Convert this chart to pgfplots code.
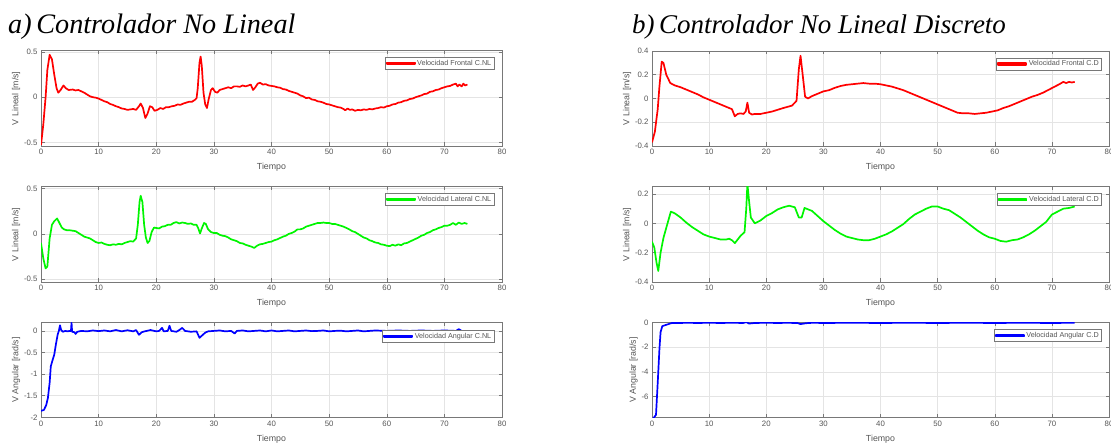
\documentclass[border=0pt]{standalone}
\usepackage{pgfplots}
\pgfplotsset{compat=1.18}
\usepackage{fontspec}
\setmainfont{Liberation Sans}
\newfontfamily\titlefont{Liberation Serif}
\definecolor{txt}{RGB}{85,85,85}
\definecolor{axc}{RGB}{120,120,120}
\definecolor{grd}{RGB}{228,228,228}
\definecolor{mred}{RGB}{255,0,0}
\definecolor{mgreen}{RGB}{0,245,0}
\definecolor{mblue}{RGB}{0,0,255}
\pgfplotsset{
  mstyle/.style={
    scale only axis,
    axis line style={axc, line width=0.6pt},
    tick style={axc, line width=0.5pt},
    tick align=inside,
    major tick length=3.5pt,
    xmajorgrids, ymajorgrids,
    grid style={grd, line width=0.5pt},
    xmin=0, xmax=80,
    xtick={0,10,...,80},
    ticklabel style={font=\fontsize{7.8}{8}\selectfont, text=txt},
    /pgf/number format/assume math mode=true,
    label style={font=\fontsize{8.8}{9}\selectfont, text=txt},
    xlabel={Tiempo},
    xlabel style={yshift=-1.5pt},
    ylabel style={yshift=-3pt},
    legend style={at={(0.983,0.932)}, anchor=north east, draw=axc, fill=white,
      font=\fontsize{7.2}{8}\selectfont, text=txt, inner sep=1pt,
      nodes={inner sep=1.7pt}},
    legend image code/.code={\fill[#1] (0pt,-0.9pt) rectangle (28pt,0.9pt);},
    every axis plot/.append style={line width=1.7pt, line join=round},
  }
}
\begin{document}
\begin{tikzpicture}
\useasboundingbox (0pt,0pt) rectangle (1111pt,444pt);
\node[anchor=base west, inner sep=0pt, text=black] at (8pt,410pt) {\titlefont\fontsize{28.2}{30}\selectfont\itshape a)\,Controlador No Lineal};
\node[anchor=base west, inner sep=0pt, text=black] at (632pt,410pt) {\titlefont\fontsize{27}{30}\selectfont\itshape b)\,Controlador No Lineal Discreto};

% ---------- Left top
\begin{axis}[mstyle, at={(41pt,298pt)}, anchor=south west, width=461pt, height=95.3pt,
  ymin=-0.54, ymax=0.515, ytick={-0.5,0,0.5}, ylabel={V Lineal [m/s]}]
\addplot[mred] coordinates {
(0,-0.53) (0.4,-0.3) (0.8,0.0) (1.1,0.3) (1.5,0.47) (1.9,0.42) (2.3,0.25) (2.7,0.1) (3.0,0.05) (3.4,0.08) (3.9,0.13) (4.3,0.1) (4.8,0.08) (5.5,0.085) (6.0,0.075) (6.5,0.08) (7.0,0.065) (7.5,0.05) (8.0,0.03) (8.5,0.01) (9.0,0.0) (9.5,-0.005) (10,-0.015) (10.5,-0.03) (11,-0.045) (11.5,-0.055) (12,-0.075) (12.5,-0.085) (13,-0.1) (13.5,-0.11) (14,-0.125) (14.5,-0.13) (15,-0.14) (15.5,-0.135) (16,-0.13) (16.5,-0.14) (17.0,-0.1) (17.3,-0.07) (17.7,-0.12) (18.1,-0.23) (18.5,-0.18) (18.9,-0.1) (19.3,-0.11) (19.7,-0.15) (20.2,-0.14) (20.7,-0.12) (21.2,-0.13) (21.7,-0.11) (22.2,-0.11) (22.7,-0.1) (23.2,-0.095) (23.7,-0.08) (24.2,-0.085) (24.7,-0.07) (25.2,-0.06) (25.7,-0.05) (26.2,-0.05) (26.7,-0.03) (27.0,-0.01) (27.2,0.1) (27.5,0.38) (27.7,0.45) (27.9,0.35) (28.2,0.05) (28.5,-0.08) (28.8,-0.12) (29.1,-0.02) (29.5,0.08) (29.8,0.1) (30.2,0.06) (30.6,0.05) (31,0.08) (31.5,0.09) (32,0.1) (32.5,0.11) (33,0.1) (33.5,0.12) (34,0.12) (34.5,0.115) (35,0.13) (35.5,0.12) (36,0.13) (36.4,0.14) (36.8,0.08) (37.2,0.11) (37.6,0.15) (38,0.16) (38.5,0.14) (39,0.145) (39.5,0.13) (40,0.125) (40.5,0.12) (41,0.11) (41.5,0.105) (42,0.09) (42.5,0.085) (43,0.07) (43.5,0.06) (44,0.05) (44.5,0.04) (45,0.02) (45.5,0.01) (46,-0.01) (46.5,-0.005) (47,-0.025) (47.5,-0.03) (48,-0.045) (48.5,-0.05) (49,-0.06) (49.5,-0.075) (50,-0.08) (50.5,-0.09) (51,-0.1) (51.5,-0.11) (52,-0.115) (52.5,-0.13) (52.8,-0.145) (53.2,-0.125) (53.6,-0.14) (54,-0.135) (54.5,-0.15) (55,-0.14) (55.5,-0.145) (56,-0.135) (56.5,-0.14) (57,-0.13) (57.5,-0.135) (58,-0.125) (58.5,-0.12) (59,-0.11) (59.5,-0.115) (60,-0.1) (60.5,-0.095) (61,-0.08) (61.5,-0.075) (62,-0.06) (62.5,-0.055) (63,-0.04) (63.5,-0.035) (64,-0.02) (64.5,-0.015) (65,0.0) (65.5,0.01) (66,0.02) (66.5,0.035) (67,0.04) (67.5,0.06) (68,0.065) (68.5,0.08) (69,0.085) (69.5,0.1) (70,0.11) (70.5,0.12) (71,0.125) (71.5,0.14) (72,0.15) (72.3,0.12) (72.6,0.14) (73,0.12) (73.3,0.15) (73.6,0.13) (74,0.14)
};
\addlegendentry{Velocidad Frontal C.NL}
\end{axis}

% ---------- Left middle
\begin{axis}[mstyle, at={(41pt,162pt)}, anchor=south west, width=461pt, height=95.3pt,
  ymin=-0.53, ymax=0.52, ytick={-0.5,0,0.5}, ylabel={V Lineal [m/s]}]
\addplot[mgreen] coordinates {
(0,-0.1) (0.4,-0.27) (0.8,-0.38) (1.1,-0.36) (1.5,-0.05) (1.9,0.1) (2.3,0.14) (2.8,0.17) (3.2,0.12) (3.6,0.07) (4.0,0.05) (4.5,0.04) (5,0.04) (5.5,0.035) (6,0.03) (6.5,0.01) (7,-0.01) (7.5,-0.03) (8,-0.04) (8.5,-0.05) (9,-0.07) (9.5,-0.09) (10,-0.1) (10.5,-0.095) (11,-0.11) (11.5,-0.12) (12,-0.125) (12.5,-0.115) (13,-0.12) (13.5,-0.11) (14,-0.115) (14.5,-0.1) (15,-0.09) (15.5,-0.08) (16,-0.085) (16.5,-0.05) (16.8,0.1) (17.1,0.35) (17.3,0.42) (17.6,0.35) (17.9,0.1) (18.2,-0.04) (18.5,-0.1) (18.8,-0.08) (19.2,0.02) (19.6,0.07) (20,0.065) (20.5,0.06) (21,0.08) (21.5,0.085) (22,0.1) (22.5,0.1) (23,0.12) (23.5,0.13) (24,0.115) (24.5,0.125) (25,0.12) (25.5,0.11) (26,0.115) (26.5,0.1) (27,0.1) (27.3,0.06) (27.6,0.005) (27.9,0.06) (28.3,0.12) (28.6,0.11) (29,0.05) (29.5,0.02) (30,0.01) (30.5,0.01) (31,-0.01) (31.5,-0.02) (32,-0.025) (32.5,-0.04) (33,-0.06) (33.5,-0.07) (34,-0.08) (34.5,-0.1) (35,-0.105) (35.5,-0.12) (36,-0.13) (36.5,-0.14) (37,-0.155) (37.5,-0.13) (38,-0.115) (38.5,-0.11) (39,-0.1) (39.5,-0.09) (40,-0.085) (40.5,-0.07) (41,-0.06) (41.5,-0.045) (42,-0.03) (42.5,-0.02) (43,0.0) (43.5,0.01) (44,0.025) (44.5,0.05) (45,0.05) (45.5,0.06) (46,0.08) (46.5,0.09) (47,0.1) (47.5,0.11) (48,0.12) (48.5,0.12) (49,0.125) (49.5,0.12) (50,0.12) (50.5,0.11) (51,0.11) (51.5,0.1) (52,0.09) (52.5,0.08) (53,0.065) (53.5,0.05) (54,0.03) (54.5,0.02) (55,0.0) (55.5,-0.02) (56,-0.04) (56.5,-0.05) (57,-0.07) (57.5,-0.08) (58,-0.095) (58.5,-0.1) (59,-0.115) (59.5,-0.12) (60,-0.13) (60.5,-0.135) (61,-0.12) (61.5,-0.13) (62,-0.115) (62.5,-0.125) (63,-0.105) (63.5,-0.1) (64,-0.085) (64.5,-0.07) (65,-0.055) (65.5,-0.04) (66,-0.02) (66.5,-0.01) (67,0.01) (67.5,0.02) (68,0.04) (68.5,0.05) (69,0.065) (69.5,0.075) (70,0.09) (70.5,0.09) (71,0.1) (71.5,0.12) (72,0.1) (72.5,0.125) (73,0.11) (73.5,0.12) (74,0.11)
};
\addlegendentry{Velocidad Lateral C.NL}
\end{axis}

% ---------- Left bottom
\begin{axis}[mstyle, at={(41pt,26.7pt)}, anchor=south west, width=461pt, height=94.6pt,
  ymin=-2, ymax=0.19, ytick={-2,-1.5,-1,-0.5,0}, ylabel={V Angular [rad/s]},
  legend style={at={(0.983,0.922)}}]
\addplot[mblue] coordinates {
(0,-1.85) (0.5,-1.83) (0.9,-1.72) (1.2,-1.55) (1.5,-1.2) (1.7,-0.82) (2.0,-0.68) (2.3,-0.55) (2.6,-0.3) (2.9,-0.08) (3.1,0.0) (3.3,0.13) (3.5,0.02) (3.8,-0.02) (4.2,0.0) (4.6,-0.01) (5.0,0.0) (5.2,0.0) (5.3,0.19) (5.4,-0.02) (5.8,-0.03) (6.0,-0.07) (6.3,-0.02) (7,0.0) (8,-0.01) (9,0.01) (10,-0.005) (11,0.01) (12,-0.01) (13,0.02) (14,-0.01) (15,0.015) (16,-0.01) (16.5,0.02) (17,-0.09) (17.5,-0.03) (18,-0.01) (19,0.02) (20,-0.01) (20.5,0.0) (21,0.07) (21.3,-0.01) (22,0.0) (22.3,0.12) (22.6,0.0) (23.5,-0.02) (24,0.02) (24.5,0.07) (25,0.0) (26,-0.02) (27,-0.01) (27.5,-0.16) (28,-0.1) (28.5,-0.04) (29,-0.01) (30,0.0) (31,0.01) (32,-0.01) (33,0.0) (33.6,-0.06) (34,0.0) (35,0.01) (36,-0.01) (37,0.0) (38,0.01) (39,-0.01) (40,0.01) (41,-0.01) (42,0.0) (43,0.01) (44,-0.01) (45,0.0) (46,0.01) (47,-0.005) (48,0.0) (49,0.01) (50,-0.01) (51,0.0) (52,0.005) (53,-0.01) (54,0.0) (55,0.01) (56,-0.01) (57,0.0) (58,0.01) (60,0.0) (62,0.01) (64,0.0) (66,0.01) (68,0.0) (70,0.01) (72,0.0) (72.5,0.04) (73,0.0) (73.5,0.0)
};
\addlegendentry{Velocidad Angular C.NL}
\end{axis}

% ---------- Right top
\begin{axis}[mstyle, at={(652pt,298pt)}, anchor=south west, width=457pt, height=95pt,
  ymin=-0.4, ymax=0.4, ytick={-0.4,-0.2,0,0.2,0.4}, ylabel={V Lineal [m/s]},
  yticklabel style={/pgf/number format/fixed}, legend style={at={(0.984,0.93)}}]
\addplot[mred] coordinates {
(0,-0.37) (0.5,-0.28) (1,-0.09) (1.3,0.1) (1.7,0.31) (2,0.3) (2.5,0.2) (3.2,0.13) (4,0.11) (5,0.095) (6,0.075) (7,0.055) (8,0.035) (9,0.01) (10,-0.01) (11,-0.03) (12,-0.05) (13,-0.07) (14,-0.09) (14.5,-0.15) (15,-0.13) (15.5,-0.125) (16,-0.13) (16.4,-0.11) (16.7,-0.035) (17,-0.12) (17.5,-0.135) (18,-0.13) (19,-0.13) (20,-0.12) (21,-0.11) (22,-0.095) (23,-0.08) (24.5,-0.06) (25.3,-0.02) (25.7,0.245) (26,0.36) (26.4,0.19) (26.8,0.015) (27.3,0.0) (28,0.02) (29,0.04) (30,0.06) (31,0.07) (32,0.09) (33,0.105) (34,0.115) (35,0.12) (36,0.125) (37,0.13) (38,0.125) (39,0.125) (40,0.12) (41,0.11) (42,0.1) (43,0.085) (44,0.07) (45,0.05) (46,0.03) (47,0.01) (48,-0.01) (49,-0.03) (50,-0.05) (51,-0.07) (52,-0.09) (53,-0.11) (53.5,-0.12) (54.5,-0.125) (55.5,-0.125) (56.5,-0.13) (57.5,-0.125) (58.5,-0.12) (59.5,-0.11) (60.5,-0.1) (61.5,-0.08) (62.5,-0.065) (63.5,-0.045) (64.5,-0.025) (65.5,-0.005) (66.5,0.015) (67.5,0.03) (68.5,0.05) (69.5,0.075) (70.5,0.1) (71.3,0.12) (72,0.14) (72.5,0.13) (73,0.14) (73.5,0.135) (74,0.14)
};
\addlegendentry{Velocidad Frontal C.D}
\end{axis}

% ---------- Right middle
\begin{axis}[mstyle, at={(652pt,162pt)}, anchor=south west, width=457pt, height=95.3pt,
  ymin=-0.4, ymax=0.25, ytick={-0.4,-0.2,0,0.2}, ylabel={V Lineal [m/s]},
  yticklabel style={/pgf/number format/fixed}, legend style={at={(0.984,0.93)}}]
\addplot[mgreen] coordinates {
(0,-0.125) (0.4,-0.165) (0.8,-0.27) (1.1,-0.325) (1.5,-0.2) (2,-0.1) (2.5,-0.03) (3.3,0.08) (4,0.068) (5,0.04) (6,0.005) (7,-0.025) (8,-0.05) (9,-0.075) (10,-0.09) (11,-0.1) (12,-0.11) (13,-0.11) (13.5,-0.105) (14,-0.115) (14.5,-0.135) (15.5,-0.085) (16.2,-0.06) (16.5,0.1) (16.7,0.27) (17,0.15) (17.3,0.04) (18,0.0) (19,0.02) (20,0.05) (21,0.07) (22,0.095) (23,0.11) (24,0.12) (25,0.11) (25.7,0.04) (26.2,0.04) (26.7,0.105) (28,0.085) (29,0.05) (30,0.015) (31,-0.015) (32,-0.045) (33,-0.07) (34,-0.09) (35,-0.1) (36,-0.11) (37,-0.115) (38,-0.115) (39,-0.105) (40,-0.09) (41,-0.075) (42,-0.055) (43,-0.03) (44,-0.005) (45,0.03) (46,0.06) (47,0.08) (48,0.1) (49,0.115) (50,0.115) (51,0.1) (52,0.09) (53,0.065) (54,0.04) (55,0.01) (56,-0.02) (57,-0.05) (58,-0.075) (59,-0.095) (60,-0.105) (61,-0.12) (62,-0.125) (63,-0.115) (64,-0.11) (65,-0.095) (66,-0.075) (67,-0.05) (68,-0.02) (69,0.01) (70,0.06) (71,0.08) (72,0.1) (73,0.105) (74,0.115)
};
\addlegendentry{Velocidad Lateral C.D}
\end{axis}

% ---------- Right bottom
\begin{axis}[mstyle, at={(652pt,26.7pt)}, anchor=south west, width=457pt, height=94.6pt,
  ymin=-7.7, ymax=0, ytick={-6,-4,-2,0}, ylabel={V Angular [rad/s]},
  legend style={at={(0.984,0.93)}}]
\addplot[mblue] coordinates {
(0.2,-7.8) (0.7,-7.5) (1,-4.9) (1.3,-2.15) (1.5,-0.77) (1.8,-0.28) (2.5,-0.17) (3.5,-0.02) (4,-0.03) (6,-0.01) (8,-0.02) (10,-0.01) (12,-0.02) (14,-0.01) (16,-0.02) (16.5,0.05) (17,-0.07) (18,-0.02) (20,-0.01) (22,-0.02) (24,-0.01) (25.5,-0.03) (26,-0.11) (27,-0.04) (28,-0.01) (30,-0.02) (35,-0.01) (40,-0.02) (45,-0.01) (50,-0.02) (55,-0.01) (60,-0.02) (65,-0.01) (70,-0.02) (74,-0.01)
};
\addlegendentry{Velocidad Angular C.D}
\end{axis}
\end{tikzpicture}
\end{document}
